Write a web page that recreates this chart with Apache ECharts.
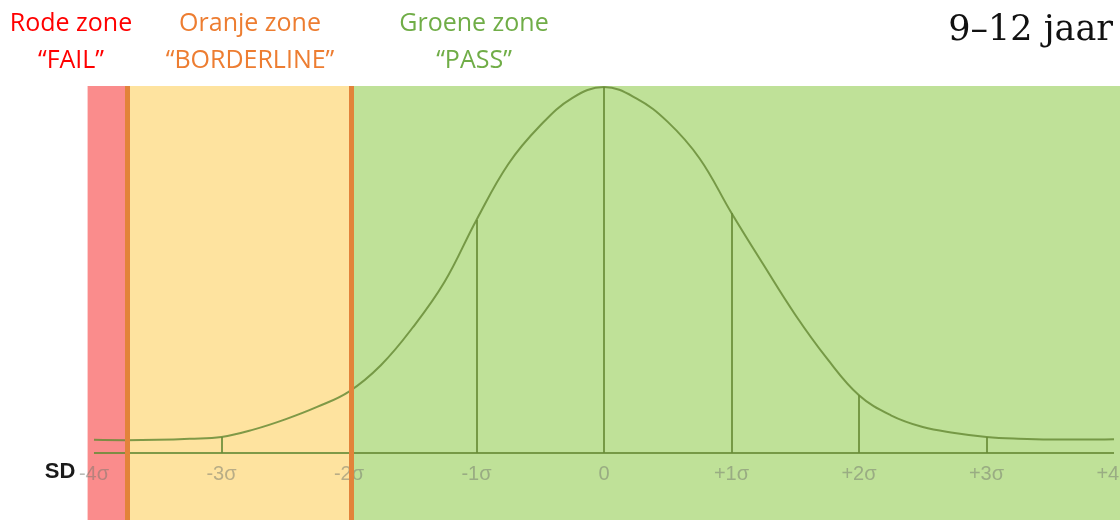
<!DOCTYPE html>
<html>
<head>
<meta charset="utf-8">
<script src="https://cdn.jsdelivr.net/npm/echarts@6/dist/echarts.min.js"></script>
<style>
  html, body { margin: 0; padding: 0; background: #ffffff; }
  #chart { width: 1120px; height: 520px; }
</style>
</head>
<body>
<div id="chart"></div>
<script>
// ---- data ----
const tickValues = [-4, -3, -2, -1, 0, 1, 2, 3, 4];
const tickLabels = ['-4σ', '-3σ', '-2σ', '-1σ', '0', '+1σ', '+2σ', '+3σ', '+4σ'];

// bell curve: x in SD units, y relative height (peak = 1)
const curveX = [-4.0, -3.75, -3.5, -3.25, -3.0, -2.75, -2.5, -2.25, -2.0, -1.75, -1.5, -1.25, -1.0, -0.75, -0.5, -0.25, 0.0,
                0.25, 0.5, 0.75, 1.0, 1.25, 1.5, 1.75, 2.0, 2.25, 2.5, 2.75, 3.0, 3.25, 3.5, 3.75, 4.0];
const curveY = [0.036, 0.035, 0.036, 0.039, 0.044, 0.064, 0.092, 0.126, 0.168, 0.240, 0.343, 0.468, 0.637, 0.790, 0.895, 0.970, 1.0,
                0.970, 0.905, 0.805, 0.656, 0.515, 0.378, 0.258, 0.158, 0.103, 0.071, 0.055, 0.044, 0.039, 0.037, 0.037, 0.038];

// vertical drop lines from the axis to the curve
const dropX = [-3, -1, 0, 1, 2, 3];
const dropY = [0.044, 0.637, 1.0, 0.656, 0.158, 0.044];

// zones
const zoneNames = ['Rode zone', 'Oranje zone', 'Groene zone'];
const zoneTags = ['“FAIL”', '“BORDERLINE”', '“PASS”'];
const zoneFrom = [-4.05, -3.74, -1.98];
const zoneTo = [-3.74, -1.98, 4.05];
const zoneBorders = [-3.74, -1.98];
const ageLabel = '9–12 jaar';
const axisLabelName = 'SD';

// ---- styles ----
const zoneFill = ['#fa8c8c', '#fee39f', '#bfe198'];
const zoneTextColor = ['#ff0000', '#ed7d31', '#70ad47'];
const zoneTextX = [71, 250, 474];
const lineColor = 'rgba(105,140,55,0.85)';

const chart = echarts.init(document.getElementById('chart'), null, { renderer: 'canvas' });

const curveData = curveX.map((x, i) => [x, curveY[i]]);
const dropLines = dropX.map((x, i) => [{ coord: [x, 0] }, { coord: [x, dropY[i]] }]);

const graphics = [];
zoneNames.forEach((n, i) => {
  graphics.push({
    type: 'text', x: zoneTextX[i], y: 24,
    style: { text: n, fill: zoneTextColor[i], font: '25px "Open Sans"', textAlign: 'center', textVerticalAlign: 'middle' }
  });
  graphics.push({
    type: 'text', x: zoneTextX[i], y: 61,
    style: { text: zoneTags[i], fill: zoneTextColor[i], font: '25px "Open Sans"', textAlign: 'center', textVerticalAlign: 'middle' }
  });
});
graphics.push({
  type: 'text', x: 1113, y: 31,
  style: { text: ageLabel, fill: '#111', font: '35px "DejaVu Serif"', textAlign: 'right', textVerticalAlign: 'middle' }
});
graphics.push({
  type: 'text', x: 60, y: 472, z: 10,
  style: { text: axisLabelName, fill: '#1a1a1a', font: 'bold 22px "Liberation Sans"', textAlign: 'center', textVerticalAlign: 'middle' }
});

const option = {
  animation: false,
  backgroundColor: '#ffffff',
  grid: { left: 0, right: 0, top: 86, bottom: 0, containLabel: false, outerBoundsMode: 'none' },
  xAxis: {
    type: 'value',
    min: -4.737, max: 4.047,
    z: 3,
    offset: -67,
    splitLine: { show: false },
    axisTick: { show: false },
    axisLine: { show: false, onZero: false },
    axisLabel: {
      customValues: tickValues,
      hideOverlap: false,
      margin: 11,
      color: 'rgba(115,120,110,0.5)',
      fontFamily: 'Liberation Sans',
      fontSize: 20,
      formatter: v => tickLabels[tickValues.indexOf(Math.round(v))] ?? ''
    }
  },
  yAxis: {
    type: 'value', min: -0.183, max: 1.003, show: false,
    splitLine: { show: false }
  },
  graphic: graphics,
  series: [
    {
      name: 'zones', type: 'line', data: [], z: -1, silent: true,
      markArea: {
        silent: true, z: -1,
        data: zoneFrom.map((f, i) => [{ xAxis: f, itemStyle: { color: zoneFill[i] } }, { xAxis: zoneTo[i] }])
      }
    },
    {
      name: 'axis', type: 'line', data: [[tickValues[0], 0], [tickValues[tickValues.length - 1], 0]],
      showSymbol: false, silent: true, z: 2,
      lineStyle: { color: lineColor, width: 2 }
    },
    {
      name: 'curve', type: 'line', data: curveData, smooth: 0.4, showSymbol: false, silent: true, z: 2,
      lineStyle: { color: lineColor, width: 2 },
      markLine: {
        silent: true, symbol: 'none', label: { show: false },
        lineStyle: { color: lineColor, width: 2, type: 'solid' },
        data: dropLines
      }
    },
    {
      name: 'borders', type: 'line', data: [], z: 5, silent: true,
      markLine: {
        silent: true, symbol: 'none', label: { show: false }, z: 10,
        lineStyle: { color: '#e2833a', width: 5, type: 'solid' },
        data: zoneBorders.map(b => ({ xAxis: b }))
      }
    }
  ]
};
chart.setOption(option);
</script>
</body>
</html>
